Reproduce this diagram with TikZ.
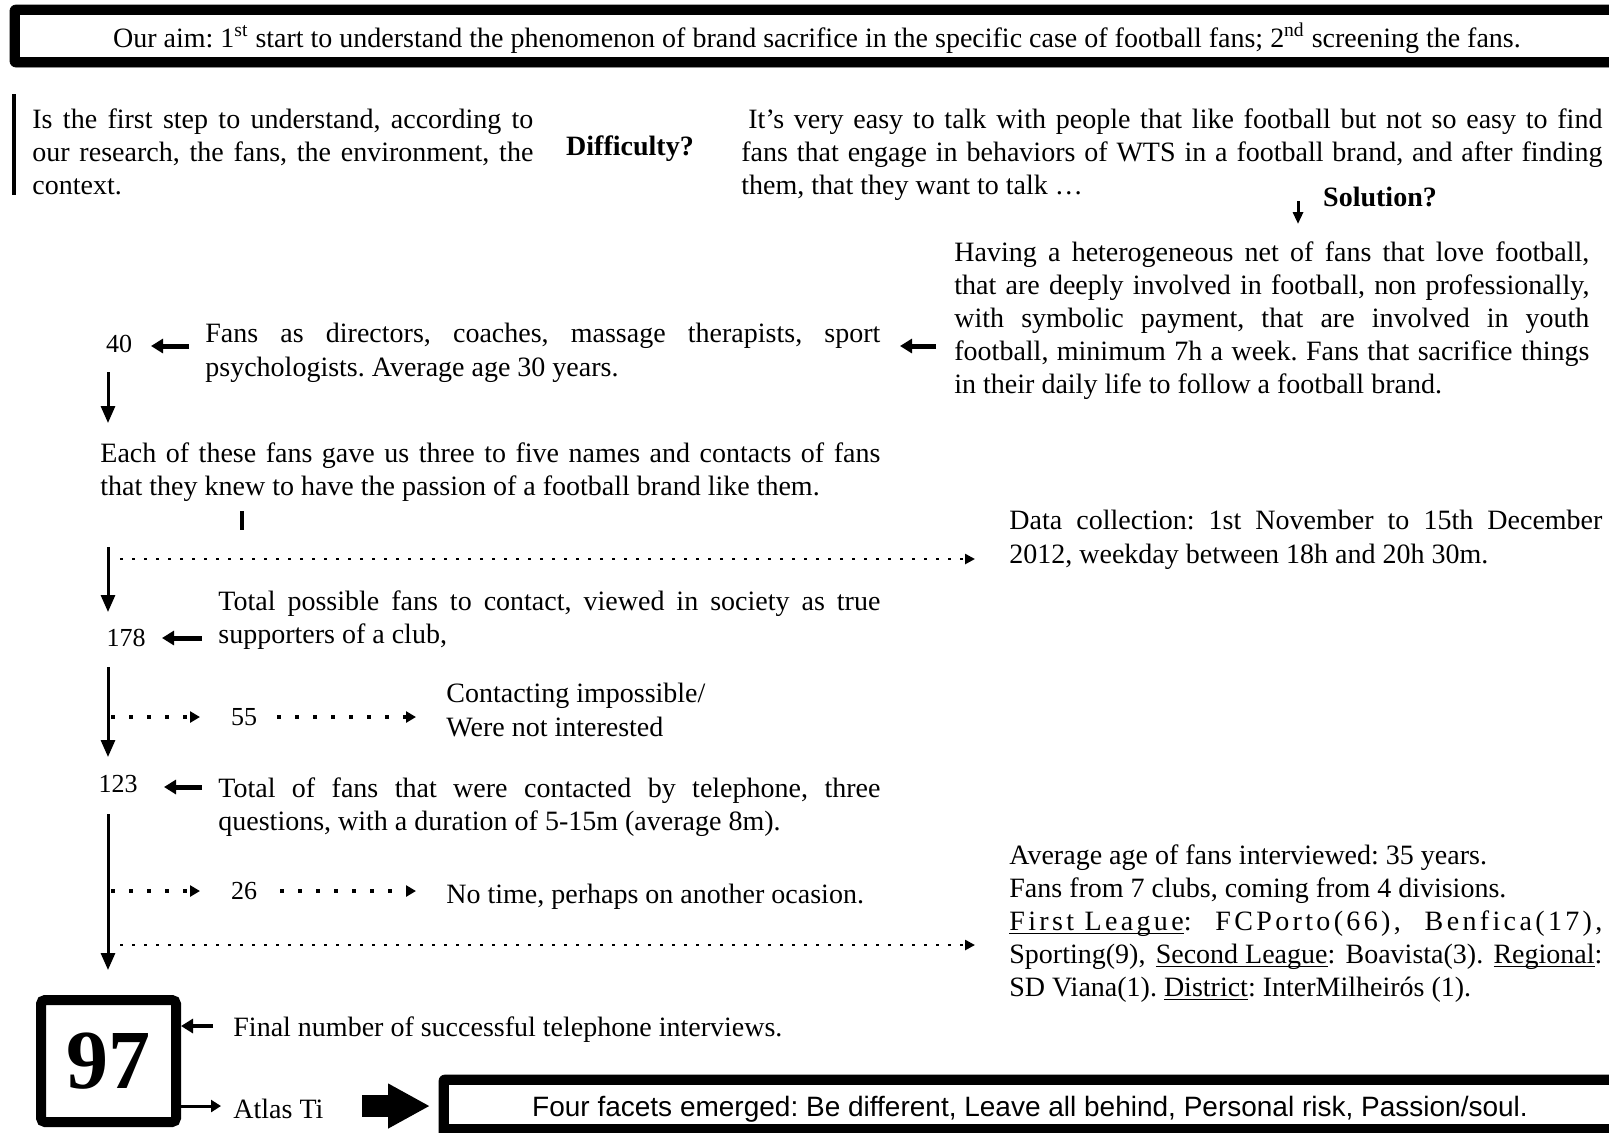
\documentclass[tikz,border=0pt]{standalone}
\usepackage{fontspec}
\setmainfont{Liberation Serif}
\setsansfont{Liberation Sans}
\usetikzlibrary{arrows.meta}
\setlength{\parindent}{0pt}
\frenchspacing
\newcommand{\uln}[1]{\underline{\smash{#1}}}
\begin{document}
\begin{tikzpicture}[x=0.5pt,y=-0.5pt,
  txt/.style={anchor=north west,inner sep=0pt,align=justify,font=\fontsize{14}{16.6}\selectfont},
  plain/.style={inner sep=0pt,font=\fontsize{14}{16.6}\selectfont},
  head/.style={inner sep=0pt,font=\fontsize{14}{16.6}\selectfont\bfseries},
  num/.style={inner sep=0pt,font=\fontsize{13}{15}\selectfont},
  flow/.style={line width=1.5pt,-{Triangle[length=8.5pt,width=7pt]}},
  pointer/.style={line width=2.5pt,-{Triangle[length=6pt,width=7pt]}},
  dotlong/.style={line width=1.4pt,dash pattern=on 1.4pt off 4.6pt,-{Triangle[length=5pt,width=5pt]}},
  dotshort/.style={line width=2pt,dash pattern=on 2pt off 7pt,-{Triangle[length=5pt,width=5.5pt]}}]
\useasboundingbox (0,0) rectangle (1609,1132);

\filldraw[rounded corners=3pt] (10,5) rectangle (1650,67);
\fill[white] (20,15) rectangle (1650,57);
\node[plain] (aim) at (817,38) {Our aim: 1\textsuperscript{st} start to understand the phenomenon of brand sacrifice in the specific case of football fans; 2\textsuperscript{nd} screening the fans.};

\draw[line width=2pt] (14,94) -- (14,195);
\node[txt,text width=250.5pt] (step) at (32,108) {Is the first step to understand, according to\linebreak our research, the fans, the environment, the\linebreak context.};
\node[head] (diff) at (630,149) {Difficulty?};
\node[txt,text width=430.5pt] (easy) at (741,108) {\hspace*{3.5pt}It’s very easy to talk with people that like football but not so easy to find\linebreak fans that engage in behaviors of WTS in a football brand, and after finding\linebreak them, that they want to talk …};
\node[head] (sol) at (1380,197) {Solution?};
\coordinate (sola) at (1298,201);
\coordinate (solb) at (1298,224);
\draw[line width=1.5pt,-{Triangle[length=6pt,width=5pt]}] (sola) -- (solb);

\node[txt,text width=317.5pt] (having) at (954,241) {Having a heterogeneous net of fans that love football,\linebreak that are deeply involved in football, non professionally,\linebreak with symbolic payment, that are involved in youth\linebreak football, minimum 7h a week. Fans that sacrifice things\linebreak in their daily life to follow a football brand.};
\coordinate (hava) at (936,346);
\coordinate (havb) at (900,346);
\draw[pointer] (hava) -- (havb);

\node[txt,text width=337.5pt] (roles) at (205,323) {Fans as directors, coaches, massage therapists, sport\linebreak psychologists. Average age 30 years.};
\node[num] (n40) at (119,344) {40};
\coordinate (rola) at (189,346);
\coordinate (rolb) at (151,346);
\draw[pointer] (rola) -- (rolb);
\coordinate (va) at (108,372);
\coordinate (vb) at (108,423);
\draw[flow] (va) -- (vb);

\node[txt,text width=390pt] (gave) at (100,442) {Each of these fans gave us three to five names and contacts of fans\linebreak that they knew to have the passion of a football brand like them.};
\coordinate (ticka) at (242,511);
\coordinate (tickb) at (242,530);
\draw[line width=2pt] (ticka) -- (tickb);
\coordinate (vc) at (108,547);
\coordinate (vd) at (108,612);
\draw[flow] (vc) -- (vd);
\coordinate (dca) at (120,559);
\coordinate (dcb) at (975,559);
\draw[dotlong] (dca) -- (dcb);
\node[txt,text width=296.5pt] (data) at (1009,510) {Data collection: 1st November to 15th December\linebreak 2012, weekday between 18h and 20h 30m.};

\node[txt,text width=331pt] (possible) at (218,590) {Total possible fans to contact, viewed in society as true\linebreak supporters of a club,};
\node[num] (n178) at (126,638) {178};
\coordinate (posa) at (202,638);
\coordinate (posb) at (162,638);
\draw[pointer] (posa) -- (posb);
\coordinate (ve) at (108,667);
\coordinate (vf) at (108,757);
\draw[flow] (ve) -- (vf);
\node[num] (n55) at (244,717) {55};
\coordinate (d55a) at (111,717);
\coordinate (d55b) at (200,717);
\coordinate (d55c) at (277,717);
\coordinate (d55d) at (416,717);
\draw[dotshort] (d55a) -- (d55b);
\draw[dotshort] (d55c) -- (d55d);
\node[txt,align=left] (refused) at (446,683) {Contacting impossible/\\Were not interested};

\node[num] (n123) at (118,784) {123};
\coordinate (cona) at (202,787);
\coordinate (conb) at (164,787);
\draw[pointer] (cona) -- (conb);
\node[txt,text width=331pt] (contacted) at (218,777) {Total of fans that were contacted by telephone, three\linebreak questions, with a duration of 5-15m (average 8m).};
\coordinate (vg) at (108,814);
\coordinate (vh) at (108,970);
\draw[flow] (vg) -- (vh);
\node[num] (n26) at (244,891) {26};
\coordinate (d26a) at (111,891);
\coordinate (d26b) at (200,891);
\coordinate (d26c) at (280,891);
\coordinate (d26d) at (416,891);
\draw[dotshort] (d26a) -- (d26b);
\draw[dotshort] (d26c) -- (d26d);
\node[txt,align=left] (notime) at (446,884) {No time, perhaps on another ocasion.};
\coordinate (dpa) at (120,945);
\coordinate (dpb) at (975,945);
\draw[dotlong] (dpa) -- (dpb);
\node[txt,text width=296.5pt] (profile) at (1009,844) {Average age of fans interviewed: 35 years.\\
Fans from 7 clubs, coming from 4 divisions.\\
{\addfontfeature{LetterSpace=12}\uln{First League}: FCPorto(66), Benfica(17),}\linebreak Sporting(9), \uln{Second League}: Boavista(3). \uln{Regional}:\linebreak SD Viana(1). \uln{District}: InterMilheirós (1).};

\node[draw,line width=5pt,rounded corners=2pt,inner sep=0pt,minimum width=67.5pt,minimum height=61pt,font=\fontsize{42}{42}\selectfont\bfseries] (final) at (108.5,1061) {97};
\node[plain,anchor=west] (finaltxt) at (233,1030) {Final number of successful telephone interviews.};
\coordinate (fina) at (213,1026);
\draw[pointer,line width=2pt] (fina) -- (final.east |- fina);
\coordinate (atla) at (221,1106);
\draw[line width=1.5pt,-{Triangle[length=5pt,width=6pt]}] (final.east |- atla) -- (atla);
\node[plain,anchor=west] (atlas) at (233,1109) {Atlas Ti};
\coordinate (biga) at (362,1106);
\coordinate (bigb) at (430,1106);
\draw[line width=11pt,-{Triangle[length=21pt,width=21pt]}] (biga) -- (bigb);

\filldraw[rounded corners=3pt] (439,1075) rectangle (1650,1142);
\fill[white] (449,1085) rectangle (1650,1124);
\node[plain,font=\sffamily\fontsize{14}{16.6}\selectfont] (facets) at (1030,1109) {Four facets emerged: Be different, Leave all behind, Personal risk, Passion/soul.};
\end{tikzpicture}
\end{document}
